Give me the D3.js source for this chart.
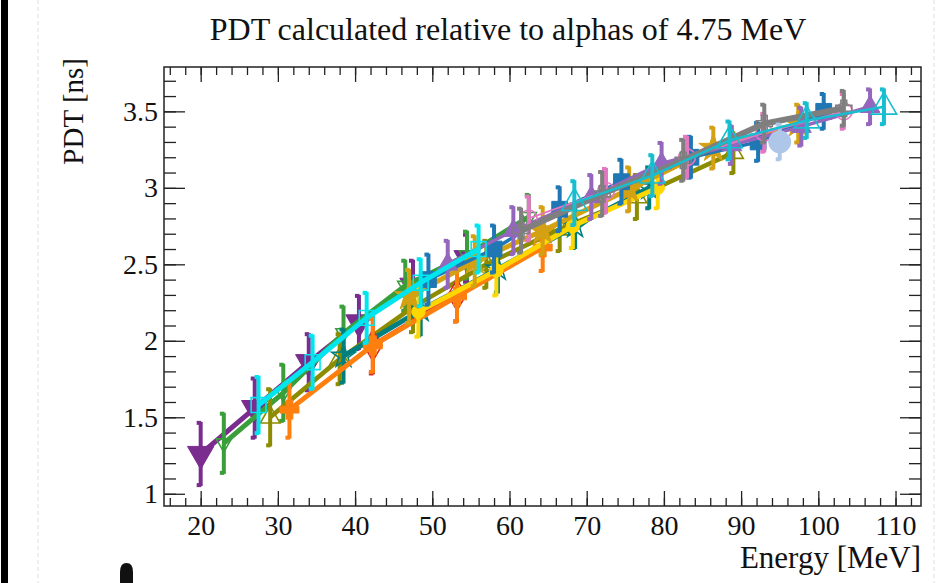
<!DOCTYPE html>
<html>
<head>
<meta charset="utf-8">
<script src="https://cdn.jsdelivr.net/npm/d3@7"></script>
<style>
  body { margin: 0; background: #fff; }
  text { font-family: "Liberation Serif", "DejaVu Serif", serif; fill: #111; }
</style>
</head>
<body>
<div id="chart"></div>
<script>
// energy [MeV], PDT [ns] and error for each data set
var E1 = [20, 27, 34, 40.5, 47.5, 54.5];
var P1 = [1.26, 1.56, 1.86, 2.12, 2.36, 2.54];
var D1 = [0.21, 0.2, 0.19, 0.18, 0.17, 0.16];

var E2 = [23, 30.7, 38.5, 46.5, 54.5, 62.5];
var P2 = [1.33, 1.66, 2.05, 2.36, 2.56, 2.81];
var D2 = [0.2, 0.19, 0.18, 0.17, 0.16, 0.15];

var E3 = [29, 38, 47.5, 57, 66.5, 76.5, 89];
var P3 = [1.5, 1.88, 2.22, 2.5, 2.73, 2.94, 3.23];
var D3 = [0.19, 0.17, 0.17, 0.16, 0.15, 0.15, 0.14];

var E4 = [38.5, 48.5, 58.5, 68.5, 78.1];
var P4 = [1.9, 2.2, 2.47, 2.75, 3.0];
var D4 = [0.18, 0.17, 0.16, 0.15, 0.14];

var E5 = [42.3, 53.2];
var P5 = [1.97, 2.3];
var D5 = [0.19, 0.18];

var E6 = [31.5, 42.3, 53.2, 64.3];
var P6 = [1.55, 1.97, 2.29, 2.61];
var D6 = [0.19, 0.18, 0.17, 0.16];

var E7 = [48.2, 58.3, 68.2, 79.2];
var P7 = [2.19, 2.46, 2.75, 3.0];
var D7 = [0.17, 0.17, 0.15, 0.14];

var E8 = [47, 55.5, 64.3, 75.5, 86.4, 97.4];
var P8 = [2.29, 2.52, 2.72, 2.99, 3.26, 3.42];
var D8 = [0.18, 0.17, 0.16, 0.15, 0.14, 0.13];

var E9 = [49.5, 58, 66.5, 74.5, 83.5, 92.2, 100.7];
var P9 = [2.4, 2.6, 2.86, 3.04, 3.2, 3.3, 3.5];
var D9 = [0.17, 0.16, 0.15, 0.15, 0.14, 0.13, 0.12];

var E10 = [52, 60.5, 70.6, 79.7, 88.8, 97.8, 106.7];
var P10 = [2.5, 2.72, 2.94, 3.16, 3.28, 3.4, 3.53];
var D10 = [0.16, 0.16, 0.15, 0.14, 0.13, 0.13, 0.12];

var E11 = [62.5, 72.5, 83, 93, 103.3];
var P11 = [2.8, 2.98, 3.2, 3.36, 3.5];
var D11 = [0.15, 0.15, 0.14, 0.13, 0.12];

var E12 = [61.5, 72, 82.5, 93, 103.3];
var P12 = [2.72, 2.96, 3.18, 3.42, 3.52];
var D12 = [0.15, 0.15, 0.14, 0.13, 0.12];

var E13 = [95];
var P13 = [3.3];
var D13 = [0.12];

var E14 = [68.4, 78.5, 88.5, 98.5, 108.5];
var P14 = [2.9, 3.08, 3.31, 3.44, 3.53];
var D14 = [0.15, 0.14, 0.13, 0.12, 0.12];

var E15 = [27.5, 34.5, 41.5, 48.5, 56];
var P15 = [1.58, 1.86, 2.15, 2.38, 2.6];
var D15 = [0.19, 0.18, 0.17, 0.16, 0.16];

var xTicks = [20, 30, 40, 50, 60, 70, 80, 90, 100, 110];
var yTicks = [1, 1.5, 2, 2.5, 3, 3.5];

// styles, kept apart from the values
var styles = [
  {color: "#7b2c8f", shape: "tridown", filled: true, size: 300, lw: 5},
  {color: "#3a9e3a", shape: "tridown", filled: false, size: 100, lw: 5},
  {color: "#8c8c00", shape: "triup", filled: false, size: 170, lw: 4.5},
  {color: "#007f7f", shape: "star", filled: false, size: 170, lw: 5},
  {color: "#d62728", shape: "diamond", filled: false, size: 280, lw: 5},
  {color: "#ff7f0e", shape: "cross", filled: true, size: 360, lw: 5},
  {color: "#ffd700", shape: "circle", filled: true, size: 140, lw: 5},
  {color: "#d4a112", shape: "star", filled: true, size: 260, lw: 5},
  {color: "#1f77b4", shape: "square", filled: true, size: 250, lw: 3.5},
  {color: "#9467bd", shape: "triup", filled: true, size: 170, lw: 3.5},
  {color: "#e377c2", shape: "circle", filled: false, size: 220, lw: 2},
  {color: "#7f7f7f", shape: "cross", filled: false, size: 260, lw: 6},
  {color: "#aec7e8", shape: "circle", filled: true, size: 380, lw: 3},
  {color: "#17becf", shape: "triup", filled: false, size: 280, lw: 2.5},
  {color: "#00e5ee", shape: "square", filled: false, size: 220, lw: 5}
];

var series = [
  [E1, P1, D1], [E2, P2, D2], [E3, P3, D3], [E4, P4, D4], [E5, P5, D5],
  [E6, P6, D6], [E7, P7, D7], [E8, P8, D8], [E9, P9, D9], [E10, P10, D10],
  [E11, P11, D11], [E12, P12, D12], [E13, P13, D13], [E14, P14, D14], [E15, P15, D15]
].map(function(s, i) {
  return {style: styles[i], pts: s[0].map(function(e, j) { return {e: e, p: s[1][j], d: s[2][j]}; })};
});

var svgWidth = 943, svgHeight = 583;
var frame = {left: 164, right: 921, top: 67, bottom: 506};

var svg = d3.select("#chart").append("svg")
  .attr("width", svgWidth)
  .attr("height", svgHeight);

// screenshot edges
svg.append("rect").attr("x", 1).attr("y", 0).attr("width", 7).attr("height", svgHeight).attr("fill", "#000");
svg.append("line").attr("x1", 38).attr("x2", 38).attr("y1", 0).attr("y2", svgHeight)
  .attr("stroke", "#ddd").attr("stroke-dasharray", "4,3");
svg.append("line").attr("x1", 934).attr("x2", 934).attr("y1", 0).attr("y2", svgHeight)
  .attr("stroke", "#ddd").attr("stroke-dasharray", "4,3");
svg.append("path").attr("d", "M120,583 L120,572 Q120,563 126.5,563 Q133,563 133,572 L133,583 Z").attr("fill", "#111");

var x = d3.scaleLinear().domain([15.25, 113.3]).range([frame.left, frame.right]);
var y = d3.scaleLinear().domain([0.92, 3.79]).range([frame.bottom, frame.top]);

var xMinor = d3.range(16, 114, 2);
var yMinor = d3.range(10, 38).map(function(v) { return v / 10; });

// axes with ticks pointing into the frame
svg.append("g").attr("transform", "translate(0," + frame.bottom + ")")
  .call(d3.axisBottom(x).tickValues(xTicks).tickSize(-15).tickPadding(9).tickFormat(d3.format("d")));
svg.append("g").attr("transform", "translate(0," + frame.bottom + ")")
  .call(d3.axisBottom(x).tickValues(xMinor).tickSize(-8).tickFormat(""));
svg.append("g").attr("transform", "translate(0," + frame.top + ")")
  .call(d3.axisTop(x).tickValues(xTicks).tickSize(-15).tickFormat(""));
svg.append("g").attr("transform", "translate(0," + frame.top + ")")
  .call(d3.axisTop(x).tickValues(xMinor).tickSize(-8).tickFormat(""));

svg.append("g").attr("transform", "translate(" + frame.left + ",0)")
  .call(d3.axisLeft(y).tickValues(yTicks).tickSize(-21).tickPadding(6).tickFormat(d3.format("~g")));
svg.append("g").attr("transform", "translate(" + frame.left + ",0)")
  .call(d3.axisLeft(y).tickValues(yMinor).tickSize(-12).tickFormat(""));
svg.append("g").attr("transform", "translate(" + frame.right + ",0)")
  .call(d3.axisRight(y).tickValues(yTicks).tickSize(-21).tickFormat(""));
svg.append("g").attr("transform", "translate(" + frame.right + ",0)")
  .call(d3.axisRight(y).tickValues(yMinor).tickSize(-12).tickFormat(""));

svg.selectAll(".domain").remove();
svg.selectAll(".tick line").attr("stroke", "#222").attr("stroke-width", 1.3);
svg.selectAll(".tick text").attr("font-size", 28).attr("fill", "#111")
  .style("font-family", "Liberation Serif");

svg.append("rect")
  .attr("x", frame.left).attr("y", frame.top)
  .attr("width", frame.right - frame.left).attr("height", frame.bottom - frame.top)
  .attr("fill", "none").attr("stroke", "#222").attr("stroke-width", 1.5);

// marker shapes
function markerPath(shape, size) {
  var r = Math.sqrt(size) / 2;
  if (shape === "cross") {
    var a = r * 0.36;
    return "M" + (-a) + "," + (-r) + "H" + a + "V" + (-a) + "H" + r + "V" + a + "H" + a + "V" + r +
      "H" + (-a) + "V" + a + "H" + (-r) + "V" + (-a) + "H" + (-a) + "Z";
  }
  if (shape === "tridown") return d3.symbol(d3.symbolTriangle, size)().replace(/,(-?[\d.]+)/g, function(m, v) { return "," + (-v); });
  var t = {triup: d3.symbolTriangle, square: d3.symbolSquare, circle: d3.symbolCircle,
    diamond: d3.symbolDiamond, star: d3.symbolStar}[shape];
  return d3.symbol(t, size)();
}

var line = d3.line().x(function(d) { return x(d.e); }).y(function(d) { return y(d.p); });

var plot = svg.append("g");

series.forEach(function(s) {
  var st = s.style;
  var g = plot.append("g");

  g.append("path")
    .datum(s.pts)
    .attr("d", line)
    .attr("fill", "none")
    .attr("stroke", st.color)
    .attr("stroke-width", st.lw);

  // error bars
  var eb = g.selectAll(".eb").data(s.pts).enter().append("g")
    .attr("transform", function(d) { return "translate(" + x(d.e) + ",0)"; });
  eb.append("line")
    .attr("y1", function(d) { return y(d.p + d.d); })
    .attr("y2", function(d) { return y(d.p - d.d); })
    .attr("stroke", st.color).attr("stroke-width", 4);
  eb.append("rect")
    .attr("x", -4).attr("width", 4.5)
    .attr("y", function(d) { return y(d.p + d.d) - 1; })
    .attr("height", 4).attr("fill", st.color);
  eb.append("rect")
    .attr("x", -4).attr("width", 4.5)
    .attr("y", function(d) { return y(d.p - d.d) - 3; })
    .attr("height", 4).attr("fill", st.color);

  g.selectAll(".mk").data(s.pts).enter().append("path")
    .attr("transform", function(d) { return "translate(" + x(d.e) + "," + y(d.p) + ")"; })
    .attr("d", markerPath(st.shape, st.size))
    .attr("fill", st.filled ? st.color : "none")
    .attr("stroke", st.color)
    .attr("stroke-width", st.filled ? 1 : 1.6);
});

// titles
svg.append("text")
  .attr("x", 508).attr("y", 40)
  .attr("text-anchor", "middle")
  .attr("font-size", 32)
  .text("PDT calculated relative to alphas of 4.75 MeV");

svg.append("text")
  .attr("transform", "translate(83,58) rotate(-90)")
  .attr("text-anchor", "end")
  .attr("font-size", 29)
  .text("PDT [ns]");

svg.append("text")
  .attr("x", frame.right).attr("y", 568)
  .attr("text-anchor", "end")
  .attr("font-size", 31)
  .text("Energy [MeV]");
</script>
</body>
</html>
